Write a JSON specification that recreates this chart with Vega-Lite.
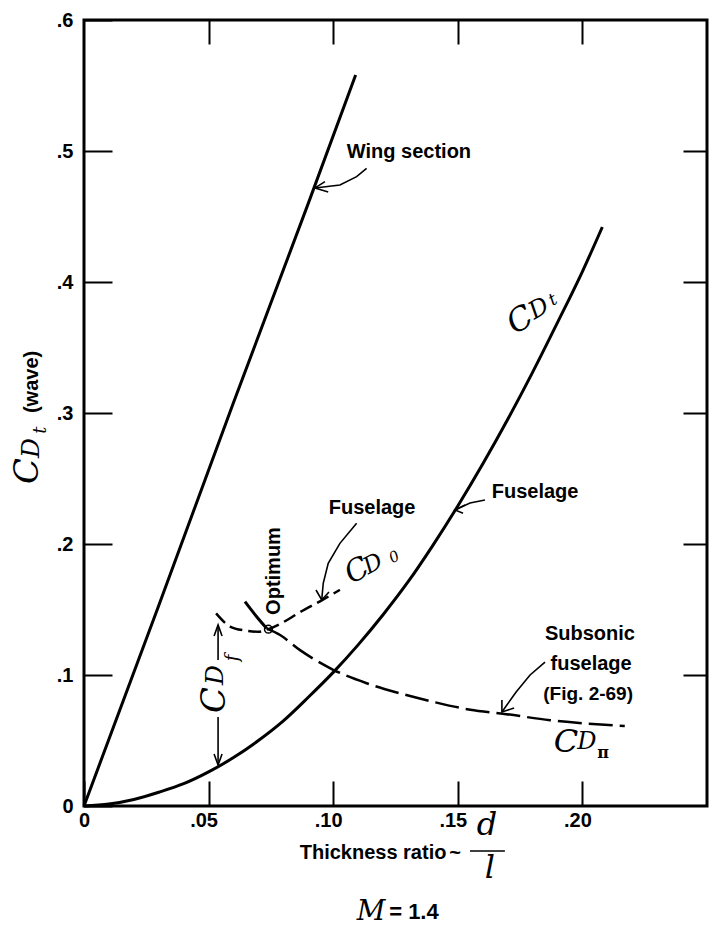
{
  "$schema": "https://vega.github.io/schema/vega-lite/v6.json",
  "width": 623,
  "height": 786,
  "autosize": "none",
  "padding": {"left": 84, "top": 20, "right": 2, "bottom": 126},
  "background": "white",
  "config": {
    "view": {"stroke": "black", "strokeWidth": 3},
    "axis": {"grid": false, "domain": false, "labelFlush": false, "tickColor": "black", "tickWidth": 2, "labelColor": "black", "labelFont": "Liberation Sans", "labelFontWeight": "bold", "labelFontSize": 20}
  },
  "datasets": {
    "curves": [
      {"s": "wing", "o": 1, "x": 0, "y": 0},
      {"s": "wing", "o": 2, "x": 0.03, "y": 0.153},
      {"s": "wing", "o": 3, "x": 0.06, "y": 0.308},
      {"s": "wing", "o": 4, "x": 0.09, "y": 0.46},
      {"s": "wing", "o": 5, "x": 0.109, "y": 0.558},
      {"s": "fuse", "o": 1, "x": 0, "y": 0},
      {"s": "fuse", "o": 2, "x": 0.01, "y": 0.0015},
      {"s": "fuse", "o": 3, "x": 0.02, "y": 0.005},
      {"s": "fuse", "o": 4, "x": 0.03, "y": 0.0105},
      {"s": "fuse", "o": 5, "x": 0.04, "y": 0.017},
      {"s": "fuse", "o": 6, "x": 0.05, "y": 0.026},
      {"s": "fuse", "o": 7, "x": 0.06, "y": 0.037},
      {"s": "fuse", "o": 8, "x": 0.07, "y": 0.05},
      {"s": "fuse", "o": 9, "x": 0.08, "y": 0.065},
      {"s": "fuse", "o": 10, "x": 0.09, "y": 0.083},
      {"s": "fuse", "o": 11, "x": 0.1, "y": 0.102},
      {"s": "fuse", "o": 12, "x": 0.11, "y": 0.123},
      {"s": "fuse", "o": 13, "x": 0.12, "y": 0.146},
      {"s": "fuse", "o": 14, "x": 0.13, "y": 0.171},
      {"s": "fuse", "o": 15, "x": 0.14, "y": 0.199},
      {"s": "fuse", "o": 16, "x": 0.15, "y": 0.229},
      {"s": "fuse", "o": 17, "x": 0.16, "y": 0.261},
      {"s": "fuse", "o": 18, "x": 0.17, "y": 0.295},
      {"s": "fuse", "o": 19, "x": 0.18, "y": 0.331},
      {"s": "fuse", "o": 20, "x": 0.19, "y": 0.369},
      {"s": "fuse", "o": 21, "x": 0.2, "y": 0.408},
      {"s": "fuse", "o": 22, "x": 0.208, "y": 0.442},
      {"s": "cdpi_s", "o": 1, "x": 0.0646, "y": 0.156},
      {"s": "cdpi_s", "o": 2, "x": 0.0693, "y": 0.1445},
      {"s": "cdpi_s", "o": 3, "x": 0.0733, "y": 0.1356},
      {"s": "cdpi_d", "o": 1, "x": 0.0733, "y": 0.1356},
      {"s": "cdpi_d", "o": 2, "x": 0.0787, "y": 0.1305},
      {"s": "cdpi_d", "o": 3, "x": 0.0867, "y": 0.119},
      {"s": "cdpi_d", "o": 4, "x": 0.1, "y": 0.104},
      {"s": "cdpi_d", "o": 5, "x": 0.1134, "y": 0.0937},
      {"s": "cdpi_d", "o": 6, "x": 0.1268, "y": 0.086},
      {"s": "cdpi_d", "o": 7, "x": 0.14, "y": 0.0796},
      {"s": "cdpi_d", "o": 8, "x": 0.155, "y": 0.0735},
      {"s": "cdpi_d", "o": 9, "x": 0.168, "y": 0.0705},
      {"s": "cdpi_d", "o": 10, "x": 0.187, "y": 0.0655},
      {"s": "cdpi_d", "o": 11, "x": 0.217, "y": 0.061},
      {"s": "cd0", "o": 1, "x": 0.053, "y": 0.147},
      {"s": "cd0", "o": 2, "x": 0.0586, "y": 0.137},
      {"s": "cd0", "o": 3, "x": 0.0646, "y": 0.134},
      {"s": "cd0", "o": 4, "x": 0.07, "y": 0.133},
      {"s": "cd0", "o": 5, "x": 0.074, "y": 0.135},
      {"s": "cd0", "o": 6, "x": 0.0787, "y": 0.139},
      {"s": "cd0", "o": 7, "x": 0.0867, "y": 0.148},
      {"s": "cd0", "o": 8, "x": 0.0954, "y": 0.157},
      {"s": "cd0", "o": 9, "x": 0.1027, "y": 0.165}
    ],
    "arrows": [
      {"a": "a1", "o": 1, "x": 0.1134, "y": 0.4868},
      {"a": "a1", "o": 2, "x": 0.1094, "y": 0.4804},
      {"a": "a1", "o": 3, "x": 0.1027, "y": 0.474},
      {"a": "a1", "o": 4, "x": 0.0927, "y": 0.4718},
      {"a": "a1h", "o": 1, "x": 0.0967, "y": 0.4766},
      {"a": "a1h", "o": 2, "x": 0.0927, "y": 0.4718},
      {"a": "a1h", "o": 3, "x": 0.098, "y": 0.4687},
      {"a": "a2", "o": 1, "x": 0.1609, "y": 0.2336},
      {"a": "a2", "o": 2, "x": 0.1549, "y": 0.2313},
      {"a": "a2", "o": 3, "x": 0.1489, "y": 0.226},
      {"a": "a2h", "o": 1, "x": 0.1529, "y": 0.2298},
      {"a": "a2h", "o": 2, "x": 0.1489, "y": 0.226},
      {"a": "a2h", "o": 3, "x": 0.1521, "y": 0.2234},
      {"a": "a3", "o": 1, "x": 0.1094, "y": 0.2158},
      {"a": "a3", "o": 2, "x": 0.1027, "y": 0.2005},
      {"a": "a3", "o": 3, "x": 0.098, "y": 0.1853},
      {"a": "a3", "o": 4, "x": 0.096, "y": 0.17},
      {"a": "a3", "o": 5, "x": 0.0954, "y": 0.1573},
      {"a": "a3h", "o": 1, "x": 0.0931, "y": 0.1649},
      {"a": "a3h", "o": 2, "x": 0.0954, "y": 0.1573},
      {"a": "a3h", "o": 3, "x": 0.0983, "y": 0.1634},
      {"a": "a4", "o": 1, "x": 0.185, "y": 0.1099},
      {"a": "a4", "o": 2, "x": 0.179, "y": 0.1},
      {"a": "a4", "o": 3, "x": 0.1734, "y": 0.087},
      {"a": "a4", "o": 4, "x": 0.1677, "y": 0.0718},
      {"a": "a4h", "o": 1, "x": 0.1677, "y": 0.0809},
      {"a": "a4h", "o": 2, "x": 0.1677, "y": 0.0718},
      {"a": "a4h", "o": 3, "x": 0.1726, "y": 0.0748},
      {"a": "a5", "o": 1, "x": 0.0538, "y": 0.1115},
      {"a": "a5", "o": 2, "x": 0.0538, "y": 0.1382},
      {"a": "a5h", "o": 1, "x": 0.0522, "y": 0.1298},
      {"a": "a5h", "o": 2, "x": 0.0538, "y": 0.1382},
      {"a": "a5h", "o": 3, "x": 0.0554, "y": 0.1298},
      {"a": "a6", "o": 1, "x": 0.0538, "y": 0.0679},
      {"a": "a6", "o": 2, "x": 0.0538, "y": 0.0313},
      {"a": "a6h", "o": 1, "x": 0.0522, "y": 0.0397},
      {"a": "a6h", "o": 2, "x": 0.0538, "y": 0.0313},
      {"a": "a6h", "o": 3, "x": 0.0554, "y": 0.0397},
      {"a": "frac", "o": 1, "x": 0.1549, "y": -0.0344},
      {"a": "frac", "o": 2, "x": 0.1689, "y": -0.0344}
    ],
    "labels": [
      {"g": "s0", "t": "Wing section", "x": 0.1304, "y": 0.4992},
      {"g": "s0", "t": "Fuselage", "x": 0.181, "y": 0.2397},
      {"g": "s0", "t": "Fuselage", "x": 0.1156, "y": 0.2275},
      {"g": "s0", "t": "Subsonic", "x": 0.203, "y": 0.1313},
      {"g": "s0", "t": "fuselage", "x": 0.2035, "y": 0.1084},
      {"g": "s0", "t": "Thickness ratio", "x": 0.116, "y": -0.0359},
      {"g": "s0", "t": "~", "x": 0.1489, "y": -0.0359},
      {"g": "eq", "t": "= 1.4", "x": 0.1324, "y": -0.0809},
      {"g": "fig", "t": "(Fig. 2-69)", "x": 0.2023, "y": 0.0855},
      {"g": "s90", "t": "Optimum", "x": 0.0762, "y": 0.1794},
      {"g": "s90", "t": "(wave)", "x": -0.0209, "y": 0.3237},
      {"g": "mC0", "t": "C", "x": 0.1934, "y": 0.0489},
      {"g": "mC0", "t": "d", "x": 0.1617, "y": -0.0145},
      {"g": "mC0", "t": "l", "x": 0.1629, "y": -0.0473},
      {"g": "mM", "t": "M", "x": 0.1152, "y": -0.0809},
      {"g": "mD0", "t": "D", "x": 0.2018, "y": 0.0489},
      {"g": "ms0", "t": "π", "x": 0.2083, "y": 0.0405},
      {"g": "mC90", "t": "C", "x": -0.0225, "y": 0.2557},
      {"g": "mC90", "t": "C", "x": 0.0526, "y": 0.0809},
      {"g": "mD90", "t": "D", "x": -0.0213, "y": 0.2733},
      {"g": "mD90", "t": "D", "x": 0.0526, "y": 0.1},
      {"g": "ms90", "t": "t", "x": -0.0173, "y": 0.287},
      {"g": "ms90", "t": "f", "x": 0.0598, "y": 0.113},
      {"g": "mCa", "t": "C", "x": 0.175, "y": 0.371},
      {"g": "mDa", "t": "D", "x": 0.1826, "y": 0.3794},
      {"g": "msa", "t": "t", "x": 0.1882, "y": 0.3863},
      {"g": "mCb", "t": "C", "x": 0.1096, "y": 0.1794},
      {"g": "mDb", "t": "D", "x": 0.116, "y": 0.1847},
      {"g": "msb", "t": "0", "x": 0.1244, "y": 0.1901}
    ]
  },
  "resolve": {"axis": {"x": "independent", "y": "independent"}},
  "layer": [
    {
      "data": {"values": [{"x": 0.074, "y": 0.135}]},
      "mark": {"type": "point", "shape": "circle", "size": 60, "filled": true, "fill": "white", "stroke": "black", "strokeWidth": 1.5, "opacity": 1},
      "encoding": {
        "x": {"field": "x", "type": "quantitative", "title": null, "scale": {"domain": [0, 0.25], "nice": false, "zero": false},
              "axis": {"orient": "top", "values": [0.05, 0.1, 0.15, 0.2], "labels": false, "tickSize": -24, "title": null}},
        "y": {"field": "y", "type": "quantitative", "title": null, "scale": {"domain": [0, 0.6], "nice": false, "zero": false},
              "axis": {"orient": "right", "values": [0.1, 0.2, 0.3, 0.4, 0.5], "labels": false, "tickSize": -24, "title": null}}
      }
    },
    {
      "layer": [
        {
          "data": {"name": "curves"},
          "transform": [{"filter": "datum.s == 'wing' || datum.s == 'fuse' || datum.s == 'cdpi_s'"}],
          "mark": {"type": "line", "color": "black", "strokeWidth": 3, "interpolate": "monotone"},
          "encoding": {
            "x": {"field": "x", "type": "quantitative", "title": null, "scale": {"domain": [0, 0.25], "nice": false, "zero": false},
                  "axis": {"orient": "bottom", "values": [0, 0.05, 0.1, 0.15, 0.2], "tickSize": -25, "labelPadding": 29, "labelFlush": false, "title": null,
                           "labelExpr": "datum.value == 0 ? '0' : replace(format(datum.value, '.2f'), '0.', '.')",
                           "labelOffset": {"condition": {"test": "datum.value == 0", "value": 0}, "value": -5}}},
            "y": {"field": "y", "type": "quantitative", "title": null, "scale": {"domain": [0, 0.6], "nice": false, "zero": false},
                  "axis": {"orient": "left", "values": [0, 0.1, 0.2, 0.3, 0.4, 0.5, 0.6], "tickSize": -28, "labelPadding": 39, "labelFlush": false, "title": null,
                           "labelExpr": "datum.value == 0 ? '0' : replace(format(datum.value, '.1f'), '0.', '.')"}},
            "detail": {"field": "s"},
            "order": {"field": "o"}
          }
        },
        {
          "data": {"name": "curves"},
          "transform": [{"filter": "datum.s == 'cd0'"}],
          "mark": {"type": "line", "color": "black", "strokeWidth": 2.5, "strokeDash": [13, 6], "interpolate": "monotone"},
          "encoding": {
            "x": {"field": "x", "type": "quantitative", "title": null},
            "y": {"field": "y", "type": "quantitative", "title": null},
            "order": {"field": "o"}
          }
        },
        {
          "data": {"name": "curves"},
          "transform": [{"filter": "datum.s == 'cdpi_d'"}],
          "mark": {"type": "line", "color": "black", "strokeWidth": 2.5, "strokeDash": [24, 7], "interpolate": "monotone"},
          "encoding": {
            "x": {"field": "x", "type": "quantitative", "title": null},
            "y": {"field": "y", "type": "quantitative", "title": null},
            "order": {"field": "o"}
          }
        },
        {
          "data": {"name": "arrows"},
          "mark": {"type": "line", "color": "black", "strokeWidth": 1.6, "clip": false},
          "encoding": {
            "x": {"field": "x", "type": "quantitative", "title": null},
            "y": {"field": "y", "type": "quantitative", "title": null},
            "detail": {"field": "a"},
            "order": {"field": "o"}
          }
        },
        {
          "data": {"name": "labels"},
          "transform": [{"filter": "datum.g == 's0'"}],
          "mark": {"type": "text", "font": "Liberation Sans", "fontWeight": "bold", "fontSize": 20, "align": "center", "baseline": "middle", "color": "black"},
          "encoding": {
            "x": {"field": "x", "type": "quantitative", "title": null},
            "y": {"field": "y", "type": "quantitative", "title": null},
            "text": {"field": "t"}
          }
        },
        {
          "data": {"name": "labels"},
          "transform": [{"filter": "datum.g == 'eq'"}],
          "mark": {"type": "text", "font": "Liberation Sans", "fontWeight": "bold", "fontSize": 22, "align": "center", "baseline": "middle", "color": "black"},
          "encoding": {
            "x": {"field": "x", "type": "quantitative", "title": null},
            "y": {"field": "y", "type": "quantitative", "title": null},
            "text": {"field": "t"}
          }
        },
        {
          "data": {"name": "labels"},
          "transform": [{"filter": "datum.g == 'fig'"}],
          "mark": {"type": "text", "font": "Liberation Sans", "fontWeight": "bold", "fontSize": 19, "align": "center", "baseline": "middle", "color": "black"},
          "encoding": {
            "x": {"field": "x", "type": "quantitative", "title": null},
            "y": {"field": "y", "type": "quantitative", "title": null},
            "text": {"field": "t"}
          }
        },
        {
          "data": {"name": "labels"},
          "transform": [{"filter": "datum.g == 's90'"}],
          "mark": {"type": "text", "font": "Liberation Sans", "fontWeight": "bold", "fontSize": 20, "align": "center", "baseline": "middle", "angle": 270, "color": "black"},
          "encoding": {
            "x": {"field": "x", "type": "quantitative", "title": null},
            "y": {"field": "y", "type": "quantitative", "title": null},
            "text": {"field": "t"}
          }
        },
        {
          "data": {"name": "labels"},
          "transform": [{"filter": "datum.g == 'mC0'"}],
          "mark": {"type": "text", "font": "DejaVu Serif", "fontStyle": "italic", "fontSize": 32, "align": "center", "baseline": "middle", "color": "black"},
          "encoding": {
            "x": {"field": "x", "type": "quantitative", "title": null},
            "y": {"field": "y", "type": "quantitative", "title": null},
            "text": {"field": "t"}
          }
        },
        {
          "data": {"name": "labels"},
          "transform": [{"filter": "datum.g == 'mM'"}],
          "mark": {"type": "text", "font": "DejaVu Serif", "fontStyle": "italic", "fontSize": 28, "align": "center", "baseline": "middle", "color": "black"},
          "encoding": {
            "x": {"field": "x", "type": "quantitative", "title": null},
            "y": {"field": "y", "type": "quantitative", "title": null},
            "text": {"field": "t"}
          }
        },
        {
          "data": {"name": "labels"},
          "transform": [{"filter": "datum.g == 'mD0'"}],
          "mark": {"type": "text", "font": "DejaVu Serif", "fontStyle": "italic", "fontSize": 24, "align": "center", "baseline": "middle", "color": "black"},
          "encoding": {
            "x": {"field": "x", "type": "quantitative", "title": null},
            "y": {"field": "y", "type": "quantitative", "title": null},
            "text": {"field": "t"}
          }
        },
        {
          "data": {"name": "labels"},
          "transform": [{"filter": "datum.g == 'ms0'"}],
          "mark": {"type": "text", "font": "DejaVu Serif", "fontWeight": "bold", "fontSize": 16, "align": "center", "baseline": "middle", "color": "black"},
          "encoding": {
            "x": {"field": "x", "type": "quantitative", "title": null},
            "y": {"field": "y", "type": "quantitative", "title": null},
            "text": {"field": "t"}
          }
        },
        {
          "data": {"name": "labels"},
          "transform": [{"filter": "datum.g == 'mC90'"}],
          "mark": {"type": "text", "font": "DejaVu Serif", "fontStyle": "italic", "fontSize": 34, "align": "center", "baseline": "middle", "angle": 270, "color": "black"},
          "encoding": {
            "x": {"field": "x", "type": "quantitative", "title": null},
            "y": {"field": "y", "type": "quantitative", "title": null},
            "text": {"field": "t"}
          }
        },
        {
          "data": {"name": "labels"},
          "transform": [{"filter": "datum.g == 'mD90'"}],
          "mark": {"type": "text", "font": "DejaVu Serif", "fontStyle": "italic", "fontSize": 25, "align": "center", "baseline": "middle", "angle": 270, "color": "black"},
          "encoding": {
            "x": {"field": "x", "type": "quantitative", "title": null},
            "y": {"field": "y", "type": "quantitative", "title": null},
            "text": {"field": "t"}
          }
        },
        {
          "data": {"name": "labels"},
          "transform": [{"filter": "datum.g == 'ms90'"}],
          "mark": {"type": "text", "font": "DejaVu Serif", "fontStyle": "italic", "fontSize": 18, "align": "center", "baseline": "middle", "angle": 270, "color": "black"},
          "encoding": {
            "x": {"field": "x", "type": "quantitative", "title": null},
            "y": {"field": "y", "type": "quantitative", "title": null},
            "text": {"field": "t"}
          }
        },
        {
          "data": {"name": "labels"},
          "transform": [{"filter": "datum.g == 'mCa'"}],
          "mark": {"type": "text", "font": "DejaVu Serif", "fontStyle": "italic", "fontSize": 32, "align": "center", "baseline": "middle", "angle": 330, "color": "black"},
          "encoding": {
            "x": {"field": "x", "type": "quantitative", "title": null},
            "y": {"field": "y", "type": "quantitative", "title": null},
            "text": {"field": "t"}
          }
        },
        {
          "data": {"name": "labels"},
          "transform": [{"filter": "datum.g == 'mDa'"}],
          "mark": {"type": "text", "font": "DejaVu Serif", "fontStyle": "italic", "fontSize": 24, "align": "center", "baseline": "middle", "angle": 330, "color": "black"},
          "encoding": {
            "x": {"field": "x", "type": "quantitative", "title": null},
            "y": {"field": "y", "type": "quantitative", "title": null},
            "text": {"field": "t"}
          }
        },
        {
          "data": {"name": "labels"},
          "transform": [{"filter": "datum.g == 'msa'"}],
          "mark": {"type": "text", "font": "DejaVu Serif", "fontStyle": "italic", "fontSize": 17, "align": "center", "baseline": "middle", "angle": 330, "color": "black"},
          "encoding": {
            "x": {"field": "x", "type": "quantitative", "title": null},
            "y": {"field": "y", "type": "quantitative", "title": null},
            "text": {"field": "t"}
          }
        },
        {
          "data": {"name": "labels"},
          "transform": [{"filter": "datum.g == 'mCb'"}],
          "mark": {"type": "text", "font": "DejaVu Serif", "fontStyle": "italic", "fontSize": 30, "align": "center", "baseline": "middle", "angle": 332, "color": "black"},
          "encoding": {
            "x": {"field": "x", "type": "quantitative", "title": null},
            "y": {"field": "y", "type": "quantitative", "title": null},
            "text": {"field": "t"}
          }
        },
        {
          "data": {"name": "labels"},
          "transform": [{"filter": "datum.g == 'mDb'"}],
          "mark": {"type": "text", "font": "DejaVu Serif", "fontStyle": "italic", "fontSize": 23, "align": "center", "baseline": "middle", "angle": 332, "color": "black"},
          "encoding": {
            "x": {"field": "x", "type": "quantitative", "title": null},
            "y": {"field": "y", "type": "quantitative", "title": null},
            "text": {"field": "t"}
          }
        },
        {
          "data": {"name": "labels"},
          "transform": [{"filter": "datum.g == 'msb'"}],
          "mark": {"type": "text", "font": "DejaVu Serif", "fontStyle": "italic", "fontSize": 15, "align": "center", "baseline": "middle", "angle": 332, "color": "black"},
          "encoding": {
            "x": {"field": "x", "type": "quantitative", "title": null},
            "y": {"field": "y", "type": "quantitative", "title": null},
            "text": {"field": "t"}
          }
        }
      ]
    }
  ]
}
